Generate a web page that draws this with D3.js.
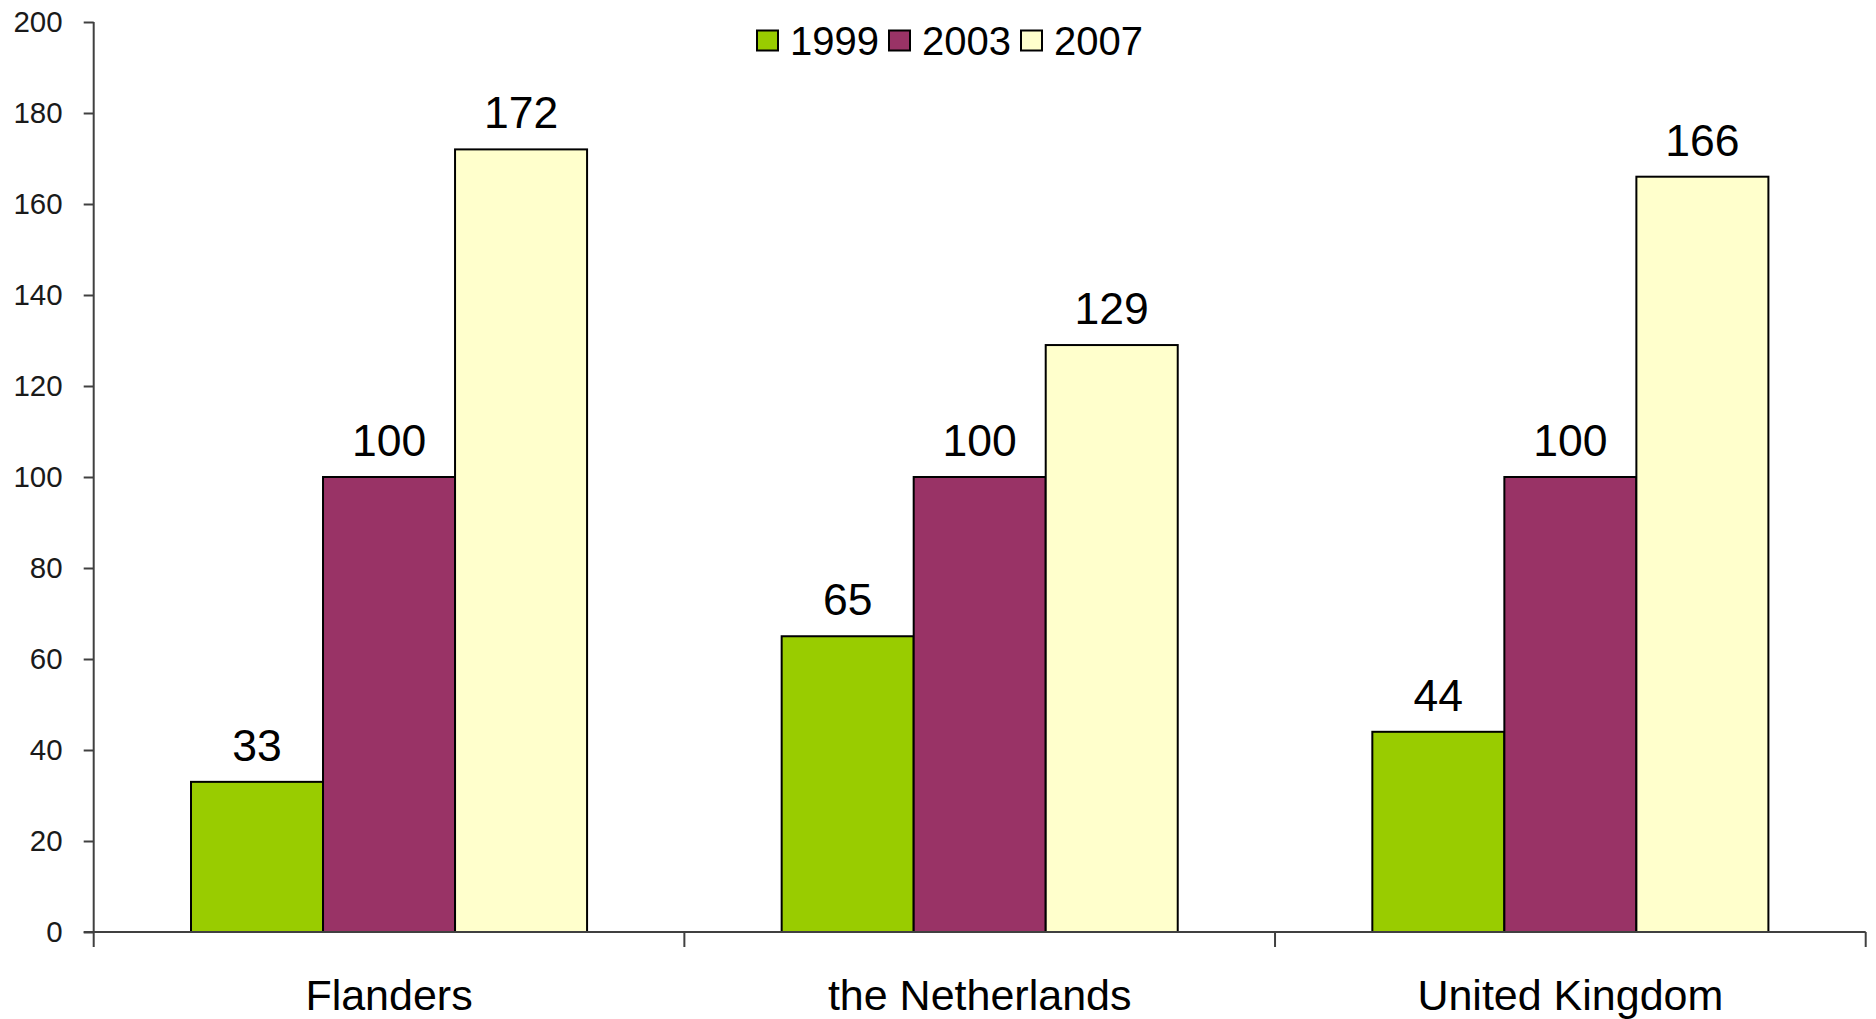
<!DOCTYPE html>
<html>
<head>
<meta charset="utf-8">
<script src="https://cdn.jsdelivr.net/npm/d3@7"></script>
<style>
  html, body { margin: 0; padding: 0; background: #fff; }
  svg { display: block; font-family: "Liberation Sans", Arial, sans-serif; }
</style>
</head>
<body>
<svg id="chart" width="1876" height="1019"></svg>
<script>
const categories = ["Flanders", "the Netherlands", "United Kingdom"];
const seriesNames = ["1999", "2003", "2007"];
const values1999 = [33, 65, 44];
const values2003 = [100, 100, 100];
const values2007 = [172, 129, 166];
const seriesColors = ["#99cc00", "#993366", "#ffffcc"];
const yTicks = [0, 20, 40, 60, 80, 100, 120, 140, 160, 180, 200];

(function () {
const seriesValues = [values1999, values2003, values2007];
const data = categories.map((c, i) => ({
  category: c,
  vals: seriesNames.map((s, j) => ({ series: s, value: seriesValues[j][i], color: seriesColors[j] }))
}));

const svg = d3.select("#chart");
const plotLeft = 93.7, plotRight = 1865.7, plotTop = 22, plotBottom = 932;
const axisColor = "#404040";

const x0 = d3.scaleBand().domain(categories).range([plotLeft, plotRight]).paddingInner(0).paddingOuter(0);
const x1 = d3.scaleBand().domain(seriesNames).range([0, x0.bandwidth()]).paddingInner(0).paddingOuter(0.737);
const y = d3.scaleLinear().domain([0, 200]).range([plotBottom, plotTop]);

// Bars
const groups = svg.append("g").selectAll("g").data(data).join("g")
  .attr("transform", d => `translate(${x0(d.category)},0)`);

groups.selectAll("rect").data(d => d.vals).join("rect")
  .attr("x", d => x1(d.series))
  .attr("y", d => y(d.value))
  .attr("width", x1.bandwidth())
  .attr("height", d => y(0) - y(d.value))
  .attr("fill", d => d.color)
  .attr("stroke", "#000")
  .attr("stroke-width", 2);

groups.selectAll("text.val").data(d => d.vals).join("text")
  .attr("class", "val")
  .attr("x", d => x1(d.series) + x1.bandwidth() / 2)
  .attr("y", d => y(d.value) - 21)
  .attr("text-anchor", "middle")
  .attr("font-size", 44.5)
  .attr("fill", "#000")
  .text(d => d.value);

// Y axis
const yAxis = svg.append("g")
  .attr("transform", `translate(${plotLeft},0)`)
  .call(d3.axisLeft(y).tickValues(yTicks).tickSize(10).tickPadding(21).tickSizeOuter(0));
yAxis.select(".domain").remove();
yAxis.selectAll(".tick line").attr("stroke", axisColor).attr("stroke-width", 2);
yAxis.selectAll(".tick text").attr("font-size", 29.5).attr("fill", "#1a1a1a")
  .attr("font-family", "'Liberation Sans', Arial, sans-serif");

svg.append("line")
  .attr("x1", plotLeft).attr("x2", plotLeft)
  .attr("y1", y(200)).attr("y2", y(0) + 15)
  .attr("stroke", axisColor).attr("stroke-width", 2);

// X axis
svg.append("line")
  .attr("x1", plotLeft - 10).attr("x2", plotRight)
  .attr("y1", y(0)).attr("y2", y(0))
  .attr("stroke", axisColor).attr("stroke-width", 2);

const boundaries = categories.map(c => x0(c) + x0.bandwidth());
svg.append("g").selectAll("line").data(boundaries).join("line")
  .attr("x1", d => d).attr("x2", d => d)
  .attr("y1", y(0)).attr("y2", y(0) + 15)
  .attr("stroke", axisColor).attr("stroke-width", 2);

svg.append("g").selectAll("text").data(categories).join("text")
  .attr("x", d => x0(d) + x0.bandwidth() / 2)
  .attr("y", y(0) + 78)
  .attr("text-anchor", "middle")
  .attr("font-size", 43)
  .attr("fill", "#000")
  .text(d => d);

// Legend
const legend = svg.append("g").attr("transform", "translate(757,0)");
const item = legend.selectAll("g").data(seriesNames).join("g")
  .attr("transform", (d, i) => `translate(${i * 132},0)`);
item.append("rect")
  .attr("x", 0).attr("y", 30.5).attr("width", 21).attr("height", 20)
  .attr("fill", (d, i) => seriesColors[i])
  .attr("stroke", "#000").attr("stroke-width", 2);
item.append("text")
  .attr("x", 33).attr("y", 55)
  .attr("font-size", 40)
  .attr("fill", "#000")
  .text(d => d);
})();
</script>
</body>
</html>
